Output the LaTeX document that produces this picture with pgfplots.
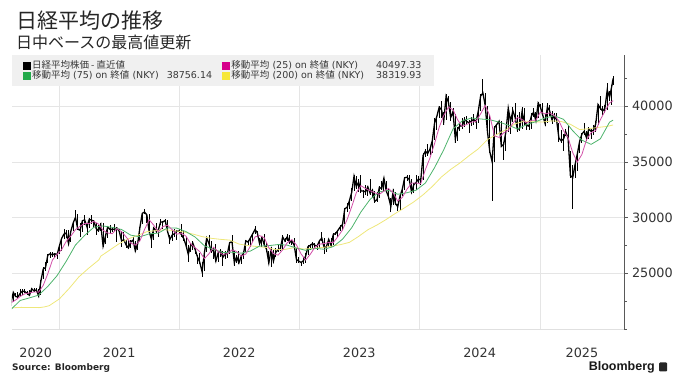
\documentclass[border=0pt]{standalone}
\usepackage{pgfplots}
\pgfplotsset{compat=1.18}
\usepackage{pgfplotstable}
\usepackage{fontspec}
\setmainfont{DejaVu Sans}
\newfontfamily\jp{Noto Sans CJK JP}
\newfontfamily\lib{Liberation Sans}
\definecolor{ma25}{HTML}{D24FA8}
\definecolor{ma75}{HTML}{4DB36B}
\definecolor{ma200}{HTML}{EEE77A}
\definecolor{sq25}{HTML}{D6008C}
\definecolor{sq75}{HTML}{22A94A}
\definecolor{sq200}{HTML}{F6E739}

\pgfplotstableread{
d c h l
219 22329 22700 22100
226 23289 23340 22400
233 22920 23250 22840
240 22882 23300 22800
247 23205 23580 23000
254 23406 23560 23050
261 23360 23600 23300
268 23205 23450 23050
275 23030 23500 22950
282 23620 23700 23300
289 23411 23700 23380
296 23517 23640 23350
303 22977 23550 22950
310 24325 24400 23050
317 25385 25600 24500
324 25527 26000 25200
331 26644 26700 25900
338 26751 26900 26400
345 26652 26900 26450
352 26763 26850 26500
359 26656 26850 26300
366 27444 27600 26700
373 28139 28200 27000
380 28519 28980 28100
387 28631 28900 28200
394 27663 28900 27600
401 28779 28800 27800
408 29520 29600 28800
415 30018 30700 29900
422 28966 30300 28900
429 28864 29500 28300
436 29717 29800 28700
443 29792 30200 29300
450 29176 29500 28400
457 29854 30000 29100
464 29768 30200 29400
471 29683 29800 29200
478 29020 29500 28400
485 28812 29300 28700
492 29357 29500 28800
499 27448 29500 27400
506 28317 28500 27600
513 29149 29200 28200
520 28941 29300 28600
527 28948 29100 28700
534 28964 29400 28800
541 29066 29200 27800
548 28783 29000 28500
555 27940 28800 27400
562 28003 28700 27900
569 27548 28000 27300
576 27283 28000 27200
583 27820 28000 27300
590 27977 28300 27700
597 27013 27900 26950
604 27641 27800 27100
611 29128 29200 27900
618 30381 30400 29400
625 30500 30800 30300
632 30248 30300 29500
639 28771 30300 28700
646 28048 28500 27300
653 29068 29100 28000
660 28804 29500 28600
667 28892 29000 28300
674 29611 29900 29300
681 29609 29700 29000
688 29745 29900 29400
695 28751 29800 28600
702 28029 28400 27600
709 28437 28800 27900
716 28545 29000 28300
723 28782 28900 28000
730 28791 29000 28500
737 28478 29400 28300
744 28124 28800 27900
751 27522 28300 27200
758 26717 27500 26000
765 27439 27600 26900
772 27696 27900 27100
779 27122 27300 26700
786 26476 26600 25800
793 25985 26800 25800
800 25163 26000 24680
807 26827 26900 25200
814 28149 28200 26900
821 27665 28400 27500
828 26985 27900 26800
835 27093 27300 26300
842 26105 27600 26000
849 26847 27000 26000
856 27003 27200 26500
863 26427 27000 25700
870 26739 27000 26300
877 26781 27000 26400
884 27761 27800 26700
891 27824 28400 27600
898 25963 27000 25700
905 26491 26600 25900
912 25935 27000 25900
919 26517 26600 25800
926 26788 26900 26300
933 27915 28000 26900
940 27801 28000 27500
947 28176 28200 27400
954 28547 28600 27800
961 28930 29220 28500
968 28641 28800 28300
975 27650 28200 27500
982 28214 28300 27400
989 27567 28500 27500
996 27153 27700 26900
1003 25937 27000 25900
1010 27116 27400 25600
1017 26090 27100 25900
1024 26890 27300 26500
1031 27105 27600 26900
1038 27199 27600 27000
1045 28263 28400 27100
1052 27899 28200 27800
1059 28283 28500 27900
1066 27777 28400 27600
1073 27901 28000 27500
1080 27527 28200 27400
1087 26235 27300 25900
1094 26095 26500 25900
1101 25973 26000 25700
1108 26120 26500 25800
1115 26553 26800 25900
1122 27383 27500 26600
1129 27509 27600 27100
1136 27671 27800 27300
1143 27513 27700 27300
1150 27453 27600 27100
1157 27927 28000 27300
1164 28143 28700 27900
1171 27333 28200 26700
1178 27385 27500 26900
1185 28041 28100 27400
1192 27518 28200 27400
1199 28493 28600 27500
1206 28564 28700 28400
1213 28856 28900 28300
1220 29157 29300 28800
1227 29388 29500 28900
1234 30808 30900 29400
1241 30916 31300 30500
1248 31524 31600 30800
1255 32265 32700 31500
1262 33706 33800 32400
1269 32781 33770 32600
1276 33189 33500 32300
1283 32388 33800 32200
1290 32391 32500 31800
1297 32304 32900 32000
1304 32759 32800 31900
1311 32193 33500 32000
1318 32474 32500 31800
1325 31450 32400 31300
1332 31624 32300 31400
1339 32710 32800 31800
1346 32606 33300 32500
1353 33533 33600 32400
1360 32402 33300 32200
1367 31858 32700 31700
1374 30995 31800 30500
1381 32315 32600 31100
1388 31259 32300 31200
1395 30991 31200 30600
1402 31950 32000 30700
1409 32568 32600 31900
1416 33585 33600 32500
1423 33626 33800 33300
1430 33431 33800 33200
1437 32307 33500 32200
1444 32970 33100 32200
1451 33170 33800 32500
1458 33464 33700 33100
1465 33377 33600 32900
1472 35577 35800 33400
1479 35963 36200 35400
1486 35751 36600 35500
1493 36158 36300 35600
1500 36897 37300 35800
1507 38487 38900 37000
1514 39098 39150 37900
1521 39910 39990 38900
1528 39688 40470 38900
1535 38707 39500 38300
1542 40888 41090 38800
1549 40369 40900 40100
1556 38992 40400 38700
1563 39523 39800 38800
1570 37068 39300 36700
1577 37934 38100 36900
1584 38236 38600 37800
1591 38229 38900 38000
1598 38787 39000 38100
1605 38646 39100 38400
1612 38488 38800 37600
1619 38683 39000 38200
1626 38815 39300 38300
1633 38596 38900 38000
1640 39583 39700 38500
1647 40912 41100 39600
1654 41190 42430 41000
1661 40063 41200 39800
1668 37667 40000 37600
1675 35909 39200 35900
1682 35025 35900 31460
1689 38062 38200 35000
1696 38364 38400 37400
1703 38648 38700 37900
1710 36391 38700 36300
1717 36581 36800 35200
1724 37724 37800 36000
1731 39830 39900 37700
1738 38636 39000 37500
1745 39605 39900 38600
1752 38982 40250 38700
1759 37914 39200 37700
1766 38054 39500 37800
1773 39500 39900 38000
1780 38642 39800 38300
1787 38284 38600 37900
1794 38208 38800 37900
1801 39091 39400 38000
1808 39470 39800 39000
1815 38702 39500 38600
1822 40281 40400 38900
1829 39895 40200 39800
1836 39190 40300 39100
1843 38451 39300 38200
1850 39931 40300 38500
1857 39572 40100 39100
1864 38787 39600 38400
1871 39149 39400 38600
1878 38776 39400 38600
1885 37156 38500 36800
1892 36887 37900 36700
1899 37053 37500 36000
1906 37677 38000 37300
1913 37120 38200 37000
1920 33781 36000 33600
1927 33586 34700 30790
1934 34730 34900 33600
1941 35705 35800 34200
1948 36831 36900 35800
1955 37503 37600 36700
1962 37754 38500 37400
1969 37160 37800 36900
1976 37965 38100 37100
1983 37741 38000 37100
1990 37834 38300 37400
1997 38403 38700 37700
2004 40150 40200 38300
2011 39811 40900 39700
2018 39570 40000 39200
2025 39819 40100 39400
2032 41456 42070 39700
2039 40800 41400 40500
2046 41820 41900 40100
2050 42500 42700 41900
}\price

\pgfplotstableread{
d v
219 22355
233 22600
247 22925
261 23155
275 23241
289 23325
303 23311
317 23923
331 24972
345 26192
359 26693
373 27131
387 27878
401 28346
415 28922
429 29229
443 29471
457 29481
471 29655
485 29427
499 28864
513 28617
527 28561
541 29014
555 28740
569 28268
583 27719
597 27528
611 27916
625 28933
639 29806
653 29327
667 28717
681 29197
695 29322
709 28914
723 28509
737 28607
751 28339
765 27656
779 27299
793 26944
807 26315
821 26758
835 27344
849 26939
863 26695
877 26759
891 27106
905 26964
919 26546
933 26729
947 27439
961 28274
975 28389
989 28200
1003 27304
1017 26773
1031 26628
1045 27109
1059 27750
1073 28025
1087 27545
1101 26746
1115 26195
1129 26708
1143 27326
1157 27615
1171 27674
1185 27766
1199 27754
1213 28294
1227 28892
1241 29825
1255 30980
1269 32238
1283 32866
1297 32611
1311 32407
1325 32236
1339 32090
1353 32385
1367 32622
1381 32221
1395 31484
1409 31817
1423 32544
1437 33103
1451 33101
1465 33058
1479 34310
1493 35365
1507 36651
1521 38110
1535 39178
1549 39912
1563 39696
1577 38777
1591 38198
1605 38366
1619 38567
1633 38646
1647 39318
1661 40069
1675 39148
1689 37345
1703 37202
1717 37609
1731 37835
1745 38475
1759 38993
1773 38811
1787 38479
1801 38745
1815 38751
1829 39488
1843 39304
1857 39408
1871 39178
1885 38688
1899 37804
1913 37179
1927 35843
1941 34984
1955 35671
1969 36991
1983 37625
1997 37821
2011 38788
2025 39551
2039 40291
2050 40497
}\maA

\pgfplotstableread{
d v
219 21756
247 22561
275 22793
303 23041
331 23828
359 24788
387 26089
415 27539
443 28408
471 29139
499 29252
527 29123
555 28937
583 28425
611 28280
639 28540
667 28608
695 29081
723 29056
751 28746
779 28252
807 27474
835 27163
863 26865
891 26890
919 26809
947 26998
975 27448
1003 27484
1031 27582
1059 27529
1087 27263
1115 27061
1143 27247
1171 27156
1199 27401
1227 28063
1255 29088
1283 30506
1311 31642
1339 32312
1367 32444
1395 32098
1423 32231
1451 32464
1479 33104
1507 34489
1535 36102
1563 37959
1591 38679
1619 38943
1647 38857
1675 38783
1703 38577
1731 38303
1759 37960
1787 38348
1815 38615
1843 38951
1871 39144
1899 38826
1927 37801
1955 36954
1983 36577
2011 37072
2039 38567
2050 38756
}\maB

\pgfplotstableread{
d v
219 21900
250 21940
280 21930
305 21920
320 21980
335 22090
366 22700
397 23680
425 24670
456 25480
486 26200
492 26539
520 27100
548 27665
576 28095
604 28401
632 28737
660 28835
688 28917
716 28822
744 28711
772 28524
800 28296
828 28143
856 28050
884 27981
912 27630
940 27488
968 27399
996 27320
1024 27116
1052 27143
1080 27312
1108 27182
1136 27234
1164 27317
1192 27418
1220 27570
1248 27778
1276 28312
1304 28907
1332 29339
1360 29833
1388 30383
1416 30883
1444 31415
1472 32048
1500 32791
1528 33654
1556 34330
1584 34903
1612 35563
1640 36173
1668 37009
1696 37465
1724 37891
1752 38427
1780 38661
1808 38607
1836 38585
1864 38685
1892 38630
1920 38379
1948 37905
1976 37980
2004 38100
2032 38190
2050 38320
}\maC

\begin{document}
\begin{tikzpicture}
\begin{axis}[
  at={(0,0)}, anchor=south west,
  scale only axis, width=612pt, height=274pt,
  xmin=222, xmax=2083, ymin=20000, ymax=44600,
  axis x line*=bottom, axis y line*=right,
  x axis line style={draw=black!12, line width=0.6pt},
  y axis line style={draw=black!65, line width=0.8pt},
  xtick={294,548,913,1278,1644,1955},
  xticklabels={2020,2021,2022,2023,2024,2025},
  minor xtick={366,731,1096,1461,1827},
  xminorgrids=true, xmajorgrids=false, ymajorgrids=true,
  grid style={draw=black!10, line width=0.5pt},
  minor grid style={draw=black!10, line width=0.5pt},
  x tick style={draw=none},
  minor x tick style={draw=none},
  ytick={25000,30000,35000,40000},
  minor ytick={20000,22500,27500,32500,37500,42500},
  y tick style={draw=black!65, line width=0.7pt},
  tick align=outside, major tick length=3.5pt, minor tick length=2.5pt,
  yticklabel style={font=\fontsize{12.8}{14}\selectfont, text=black!80, xshift=1pt},
  xticklabel style={font=\fontsize{12.8}{14}\selectfont, text=black!80, yshift=-12pt},
  scaled y ticks=false,
  /pgf/number format/assume math mode=true,
  /pgf/number format/1000 sep={},
  legend columns=2,
  legend cell align=left,
  legend style={at={(0,1)}, anchor=north west, fill=black!6, draw=none,
    inner xsep=10.5pt, inner ysep=5.5pt,
    font=\fontsize{9.5}{10}\selectfont, text=black!78,
    nodes={text height=7.5pt, text depth=2.5pt, inner ysep=0pt, inner xsep=2pt},
    /tikz/every even column/.append style={column sep=8pt}},
]
\addlegendimage{legend image code/.code={\fill[black] (0pt,-3.5pt) rectangle (7pt,3.5pt);}}
\addlegendentry{\makebox[180pt][l]{\jp 日経平均株価 - 直近値}}
\addlegendimage{legend image code/.code={\fill[sq25] (0pt,-3.5pt) rectangle (7pt,3.5pt);}}
\addlegendentry{\makebox[190pt][l]{{\jp 移動平均} (25) on {\jp 終値} (NKY)\hfill 40497.33}}
\addlegendimage{legend image code/.code={\fill[sq75] (0pt,-3.5pt) rectangle (7pt,3.5pt);}}
\addlegendentry{\makebox[180pt][l]{{\jp 移動平均} (75) on {\jp 終値} (NKY)\hfill 38756.14}}
\addlegendimage{legend image code/.code={\fill[sq200] (0pt,-3.5pt) rectangle (7pt,3.5pt);}}
\addlegendentry{\makebox[190pt][l]{{\jp 移動平均} (200) on {\jp 終値} (NKY)\hfill 38319.93}}

\addplot[black, line width=1.3pt, forget plot,
  error bars/.cd, y dir=both, y explicit,
  error bar style={line width=0.9pt, black}, error mark=none]
  table[x=d, y=c, y error plus expr=\thisrow{h}-\thisrow{c},
        y error minus expr=\thisrow{c}-\thisrow{l}] {\price};
\addplot[ma200, line width=0.8pt, forget plot] table[x=d, y=v] {\maC};
\addplot[ma75, line width=0.8pt, forget plot] table[x=d, y=v] {\maB};
\addplot[ma25, line width=0.8pt, forget plot] table[x=d, y=v] {\maA};
\end{axis}
\node[anchor=west, inner sep=0, text=black!85] at (4pt,308pt) {\jp\fontsize{21}{21}\selectfont 日経平均の推移};
\node[anchor=west, inner sep=0, text=black!85] at (4pt,287pt) {\jp\fontsize{16}{16}\selectfont 日中ベースの最高値更新};
\node[anchor=west, inner sep=0, text=black!85] at (0pt,-39pt) {\fontsize{9}{10}\selectfont\bfseries Source: Bloomberg};
\node[anchor=east, inner sep=0, text=black!90] at (643pt,-38pt) {\lib\fontsize{12.5}{13}\selectfont\bfseries Bloomberg};
\node[fill=black!85, minimum width=8pt, minimum height=9pt, inner sep=0, rounded corners=1pt] at (651pt,-38pt) {};
\pgfresetboundingbox
\path[use as bounding box] (-12pt,-56pt) rectangle (668pt,329pt);
\end{tikzpicture}
\end{document}
